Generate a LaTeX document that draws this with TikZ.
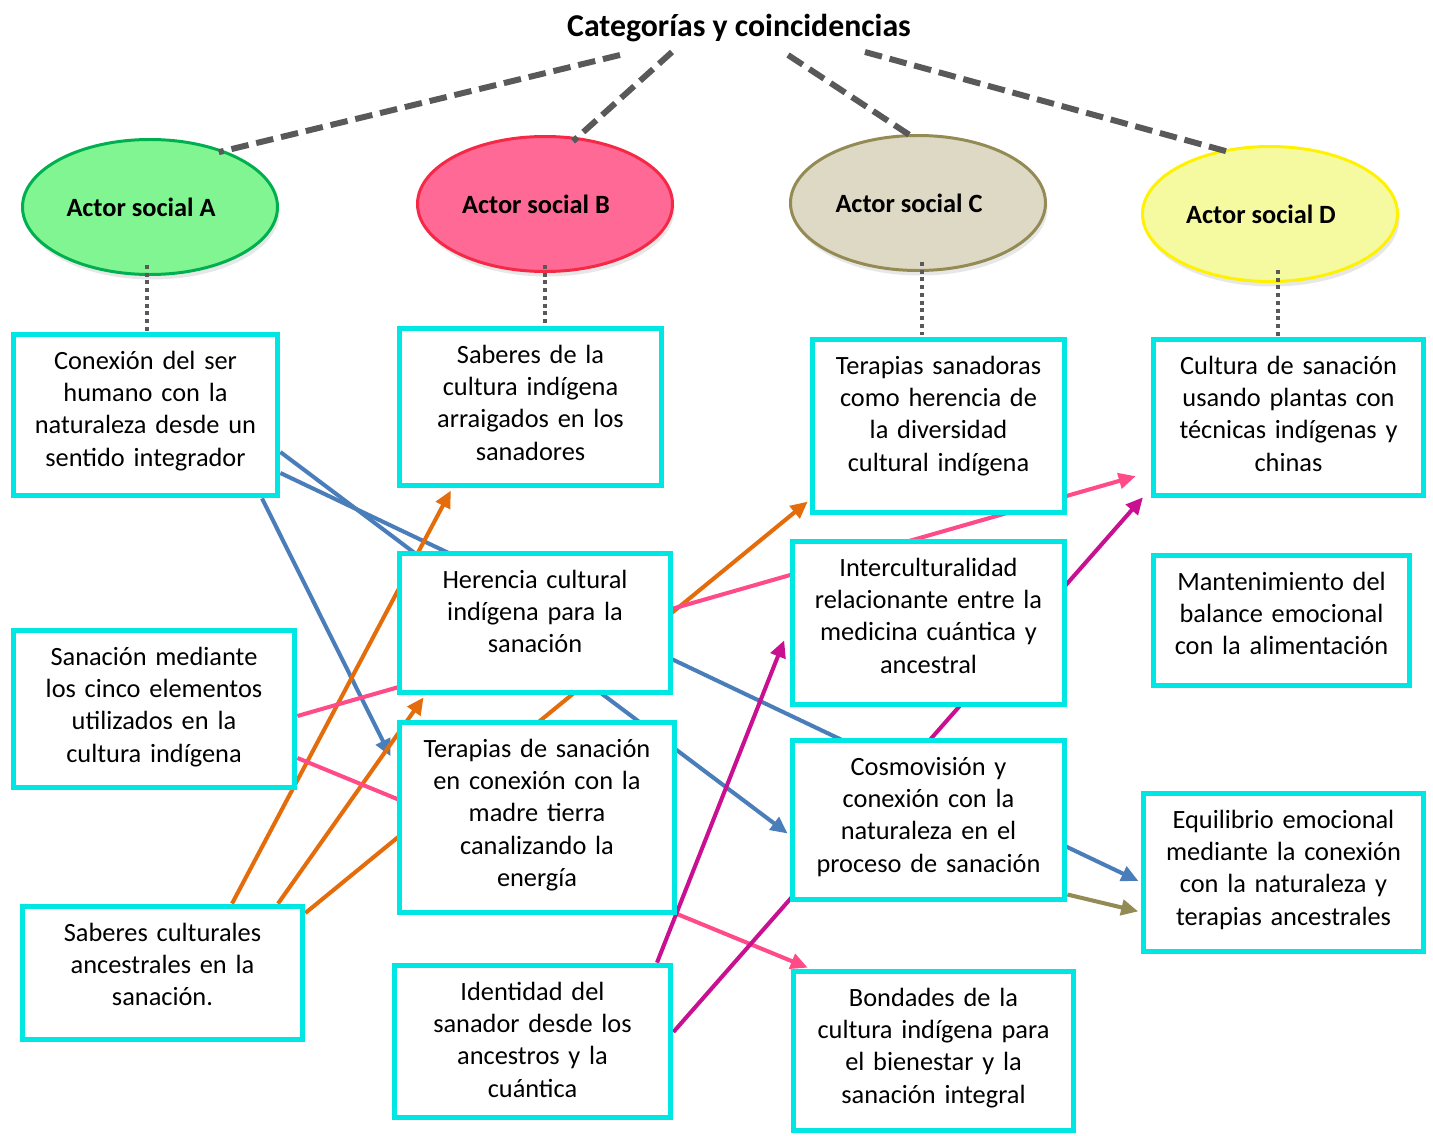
\documentclass[tikz,border=0pt]{standalone}
\usepackage{fontspec}
\setmainfont{Carlito}
\usepackage{tikz}
\usetikzlibrary{shapes.geometric, arrows.meta, positioning, calc, backgrounds, shadows}
\definecolor{boxcyan}{RGB}{0, 230, 226}
\definecolor{dashgray}{RGB}{89, 89, 89}
\definecolor{linkblue}{RGB}{74, 126, 187}
\definecolor{linkorange}{RGB}{228, 108, 10}
\definecolor{linkpink}{RGB}{255, 75, 135}
\definecolor{linkmagenta}{RGB}{200, 16, 145}
\definecolor{linkolive}{RGB}{148, 138, 84}
\definecolor{actAfill}{RGB}{128, 245, 145}
\definecolor{actAline}{RGB}{0, 176, 80}
\definecolor{actBfill}{RGB}{255, 105, 150}
\definecolor{actBline}{RGB}{245, 40, 70}
\definecolor{actCfill}{RGB}{221, 217, 196}
\definecolor{actCline}{RGB}{148, 138, 84}
\definecolor{actDfill}{RGB}{245, 250, 160}
\definecolor{actDline}{RGB}{255, 242, 0}

\begin{document}
\begin{tikzpicture}[
    actor/.style={ellipse, draw, line width=1.7pt, minimum width=5.1cm, minimum height=2.7cm, inner sep=0pt, font=\fontsize{15}{18}\selectfont\bfseries, execute at end node=\hspace*{0.36cm}, drop shadow={shadow xshift=0.04cm, shadow yshift=-0.1cm, fill=black!30, opacity=0.3}},
    cat/.style={rectangle, draw=boxcyan, line width=3pt, fill=white, align=center, inner xsep=0.1cm, inner ysep=0.1cm, text height=0.6cm, font=\fontsize{15}{18.4}\selectfont},
    link/.style={-{Triangle[length=0.34cm, width=0.31cm]}, line width=2.3pt, shorten >=0.05cm},
    dashlink/.style={dashgray, line width=3.4pt, dash pattern=on 10pt off 4.5pt, shorten >=-0.12cm},
    dotlink/.style={dashgray, line width=2.2pt, dash pattern=on 2.2pt off 2.2pt}
]
    \useasboundingbox (0, 0) rectangle (28.66, -22.72);

    % Title
    \node[font=\fontsize{18.1}{22}\selectfont\bfseries] (title) at (14.78, -0.56) {Categorías y coincidencias};

    % Social actors
    \node[actor, fill=actAfill, draw=actAline] (actA) at (3.00, -4.14) {Actor social A};
    \node[actor, fill=actBfill, draw=actBline] (actB) at (10.90, -4.08) {Actor social B};
    \node[actor, fill=actCfill, draw=actCline] (actC) at (18.36, -4.06) {Actor social C};
    \node[actor, fill=actDfill, draw=actDline] (actD) at (25.40, -4.28) {Actor social D};

    % Categories, first row
    \node[cat, text width=5.09cm, text depth=2.43cm] (conex) at (2.91, -8.30) {Conexión del ser\\humano con la\\naturaleza desde un\\sentido integrador};
    \node[cat, text width=5.05cm, text depth=2.35cm] (saber) at (10.61, -8.14) {Saberes de la\\cultura indígena\\arraigados en los\\sanadores};
    \node[cat, text width=4.85cm, text depth=2.67cm] (tersan) at (18.77, -8.52) {Terapias sanadoras\\como herencia de\\la diversidad\\cultural indígena};
    \node[cat, text width=5.21cm, text depth=2.33cm] (plant) at (25.77, -8.35) {Cultura de sanación\\usando plantas con\\técnicas indígenas y\\chinas};

    % Categories, middle
    \node[cat, text width=5.23cm, text depth=1.99cm] (heren) at (10.70, -12.46) {Herencia cultural\\indígena para la\\sanación};
    \node[cat, text width=5.25cm, text depth=2.47cm] (inter) at (18.57, -12.46) {Interculturalidad\\relacionante entre la\\medicina cuántica y\\ancestral};
    \node[cat, text width=4.93cm, text depth=1.81cm] (mant) at (25.63, -12.41) {Mantenimiento del\\balance emocional\\con la alimentación};
    \node[cat, text width=5.43cm, text depth=2.35cm] (cinco) at (3.08, -14.18) {Sanación mediante\\los cinco elementos\\utilizados en la\\cultura indígena};
    \node[cat, text width=5.31cm, text depth=3.01cm] (tierra) at (10.74, -16.35) {Terapias de sanación\\en conexión con la\\madre tierra\\canalizando la\\energía};
    \node[cat, text width=5.25cm, text depth=2.39cm] (cosmo) at (18.57, -16.40) {Cosmovisión y\\conexión con la\\naturaleza en el\\proceso de sanación};
    \node[cat, text width=5.41cm, text depth=2.37cm] (equil) at (25.67, -17.45) {Equilibrio emocional\\mediante la conexión\\con la naturaleza y\\terapias ancestrales};

    % Categories, bottom
    \node[cat, text width=5.41cm, text depth=1.87cm] (ances) at (3.25, -19.46) {Saberes culturales\\ancestrales en la\\sanación.};
    \node[cat, text width=5.33cm, text depth=2.25cm] (ident) at (10.65, -20.83) {Identidad del\\sanador desde los\\ancestros y la\\cuántica};
    \node[cat, text width=5.41cm, text depth=2.39cm] (bond) at (18.67, -21.02) {Bondades de la\\cultura indígena para\\el bienestar y la\\sanación integral};

    % Dashed lines from the title to the actors
    \coordinate (tA) at (12.40, -1.10);
    \coordinate (tB) at (13.44, -1.04);
    \coordinate (tC) at (15.76, -1.10);
    \coordinate (tD) at (17.30, -1.04);
    \draw[dashlink] (tA) -- (actA.37);
    \draw[dashlink] (tB) -- (actB.64);
    \draw[dashlink] (tC) -- (actC.98);
    \draw[dashlink] (tD) -- (actD.127);

    % Dotted lines from the actors to their categories
    \draw[dotlink] ([xshift=-0.06cm, yshift=0.22cm]actA.south) coordinate (dA) -- (dA |- conex.north);
    \draw[dotlink] ([yshift=0.16cm]actB.south) coordinate (dB) -- (dB |- saber.north);
    \draw[dotlink] ([xshift=0.08cm, yshift=0.2cm]actC.south) coordinate (dC) -- (dC |- tersan.north);
    \draw[dotlink] ([xshift=0.16cm, yshift=0.26cm]actD.south) coordinate (dD) -- (dD |- plant.north);

    % Coincidences between categories
    \begin{scope}[on background layer]
        \fill[white] (0, 0) rectangle (28.66, -22.72);
        % blue
        \draw[link, linkblue] ([yshift=-0.74cm]conex.east) -- ([yshift=-0.30cm]cosmo.west);
        \draw[link, linkblue] ([yshift=-1.16cm]conex.east) -- ([yshift=-0.19cm]equil.west);
        \draw[link, linkblue] ([xshift=2.33cm]conex.south) -- ([xshift=-0.10cm, yshift=1.18cm]tierra.west);
        % orange
        \draw[link, linkorange] ([xshift=1.39cm]ances.north) -- ([xshift=-1.57cm]saber.south);
        \draw[link, linkorange] ([xshift=2.31cm]ances.north) -- ([xshift=-2.20cm]heren.south);
        \draw[link, linkorange] ([yshift=1.20cm]ances.east) -- ([yshift=-1.48cm]tersan.west);
        % pink
        \draw[link, linkpink] ([yshift=-0.14cm]cinco.east) -- ([xshift=-0.25cm, yshift=-1.16cm]plant.west);
        \draw[link, linkpink] ([yshift=-0.98cm]cinco.east) -- ([xshift=-2.47cm]bond.north);
        % magenta
        \draw[link, linkmagenta] ([xshift=2.49cm]ident.north) -- ([xshift=-0.09cm, yshift=-0.30cm]inter.west);
        \draw[link, linkmagenta] ([yshift=0.19cm]ident.east) -- ([xshift=-0.12cm, yshift=0.06cm]plant.south west);
        % olive
        \draw[link, linkolive] ([yshift=-1.49cm]cosmo.east) -- ([yshift=-0.79cm]equil.west);
    \end{scope}

\end{tikzpicture}
\end{document}
